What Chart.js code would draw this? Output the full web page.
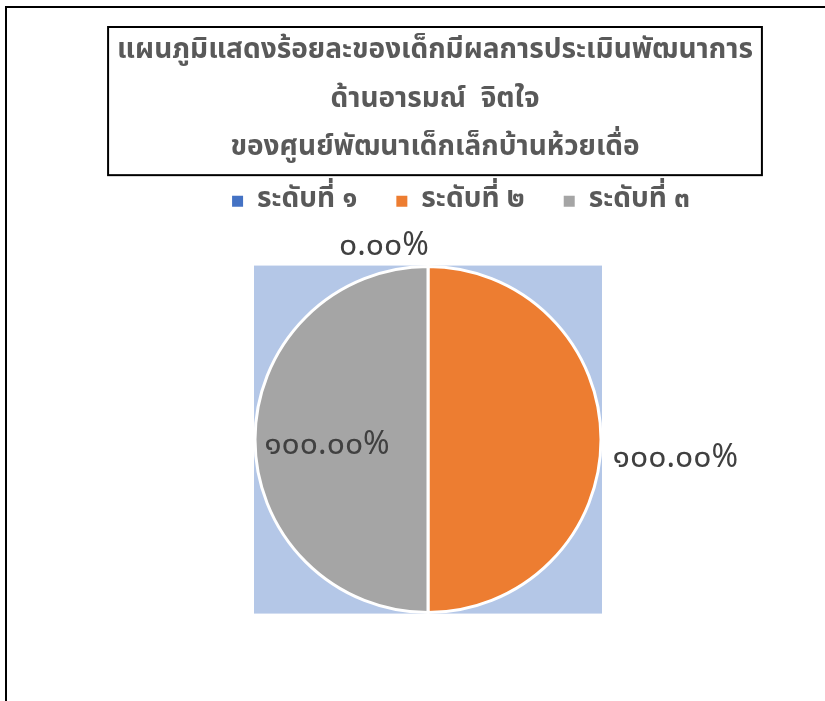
<!DOCTYPE html>
<html>
<head>
<meta charset="utf-8">
<script src="https://cdn.jsdelivr.net/npm/chart.js@4/dist/chart.umd.min.js"></script>
<style>
  html, body { margin: 0; padding: 0; background: #fff; }
  #frame { position: absolute; left: 5px; top: 6px; width: 830px; height: 700px; border-left: 2px solid #000; border-top: 2px solid #000; }
  #wrap { position: absolute; left: 0; top: 0; width: 825px; height: 701px; }
</style>
</head>
<body>
<div id="frame"></div>
<div id="wrap"><canvas id="pieChart"></canvas></div>
<script>
'use strict';

// Chart data
var titleLines  = ['แผนภูมิแสดงร้อยละของเด็กมีผลการประเมินพัฒนาการ', 'ด้านอารมณ์  จิตใจ', 'ของศูนย์พัฒนาเด็กเล็กบ้านห้วยเดื่อ'];
var levelLabels = ['ระดับที่ ๑', 'ระดับที่ ๒', 'ระดับที่ ๓'];
var levelValues = [0, 100, 100];
var levelColors = ['#4472C4', '#ED7D31', '#A5A5A5'];

var thaiFont = "'Noto Sans Thai', 'Noto Sans Thai UI', Tahoma, Loma, 'Noto Sans', sans-serif";

/**
 * Arabic digits to Thai digits
 */
function toThaiDigits(str) {
    var thai = ['๐', '๑', '๒', '๓', '๔', '๕', '๖', '๗', '๘', '๙'];
    return String(str).replace(/[0-9]/g, function (d) { return thai[+d]; });
}

// Light blue square behind the pie (plot area fill)
var plotAreaFill = {
    id: 'plotAreaFill',
    beforeDatasetsDraw: function (chart) {
        var arc = chart.getDatasetMeta(0).data[0];
        if (!arc) {
            return;
        }
        var r   = arc.outerRadius + 1;
        var ctx = chart.ctx;
        ctx.save();
        ctx.fillStyle = '#B4C7E7';
        ctx.fillRect(arc.x - r, arc.y - r, r * 2, r * 2);
        ctx.restore();
    }
};

// Legend sits tight under the title box, a bit right of centre; title a bit right too
var blockNudge = {
    id: 'blockNudge',
    afterLayout: function (chart) {
        var lg = chart.legend;
        lg.top    -= 27;
        lg.bottom -= 27;
        lg.left   += 33;
        lg.right  += 33;

        var tb = chart.titleBlock;
        tb.left  += 7;
        tb.right += 7;
    }
};

// Box round the title
var titleBox = {
    id: 'titleBox',
    afterDraw: function (chart) {
        var tb  = chart.titleBlock;
        var ctx = chart.ctx;
        ctx.save();
        ctx.font = 'bold 28px ' + thaiFont;
        var maxW = 0;
        titleLines.forEach(function (l) { maxW = Math.max(maxW, ctx.measureText(l).width); });
        var cx = (tb.left + tb.right) / 2;
        ctx.strokeStyle = '#000';
        ctx.lineWidth   = 2;
        ctx.strokeRect(cx - maxW / 2 - 9, tb.top, maxW + 18, tb.height);
        ctx.restore();
    }
};

// Value labels on slices
var sliceLabels = {
    id: 'sliceLabels',
    afterDatasetsDraw: function (chart) {
        var meta = chart.getDatasetMeta(0);
        var ctx  = chart.ctx;
        ctx.save();
        ctx.font         = '32px ' + thaiFont;
        ctx.fillStyle    = '#404040';
        ctx.textAlign    = 'center';
        ctx.textBaseline = 'middle';
        meta.data.forEach(function (arc, i) {
            var mid  = (arc.startAngle + arc.endAngle) / 2;
            var r    = arc.outerRadius;
            var dist = [1.12, 1.43, 0.59][i];
            var x    = arc.x + Math.cos(mid) * r * dist;
            var y    = arc.y + Math.sin(mid) * r * dist;
            if (i === 0) { x -= 44; y += 3; }
            if (i === 1) { y += 21; }
            if (i === 2) { x += 1; y += 8; }
            ctx.fillText(toThaiDigits(levelValues[i].toFixed(2) + '%'), x, y);
        });
        ctx.restore();
    }
};

new Chart(document.getElementById('pieChart'), {
    type: 'pie',
    data: {
        labels: levelLabels,
        datasets: [{
            data: levelValues,
            backgroundColor: levelColors,
            borderColor: '#fff',
            borderWidth: 3
        }]
    },
    options: {
        responsive: true,
        maintainAspectRatio: false,
        animation: false,
        radius: 173,
        layout: { padding: { top: 27, bottom: 74, left: 31, right: 0 } },
        plugins: {
            title: {
                display: true,
                text: titleLines,
                color: '#595959',
                font: { family: thaiFont, size: 28, weight: 'bold', lineHeight: 1.74 },
                padding: { top: 1, bottom: 1 }
            },
            legend: {
                position: 'top',
                labels: {
                    color: '#595959',
                    font: { family: thaiFont, size: 28, weight: 'bold' },
                    boxWidth: 11,
                    boxHeight: 11,
                    padding: 39,
                    generateLabels: function (chart) {
                        var items = Chart.overrides.pie.plugins.legend.labels.generateLabels(chart);
                        items.forEach(function (it) { it.lineWidth = 0; it.strokeStyle = it.fillStyle; });
                        return items;
                    }
                }
            },
            tooltip: { enabled: false }
        }
    },
    plugins: [plotAreaFill, blockNudge, titleBox, sliceLabels]
});
</script>
</body>
</html>
